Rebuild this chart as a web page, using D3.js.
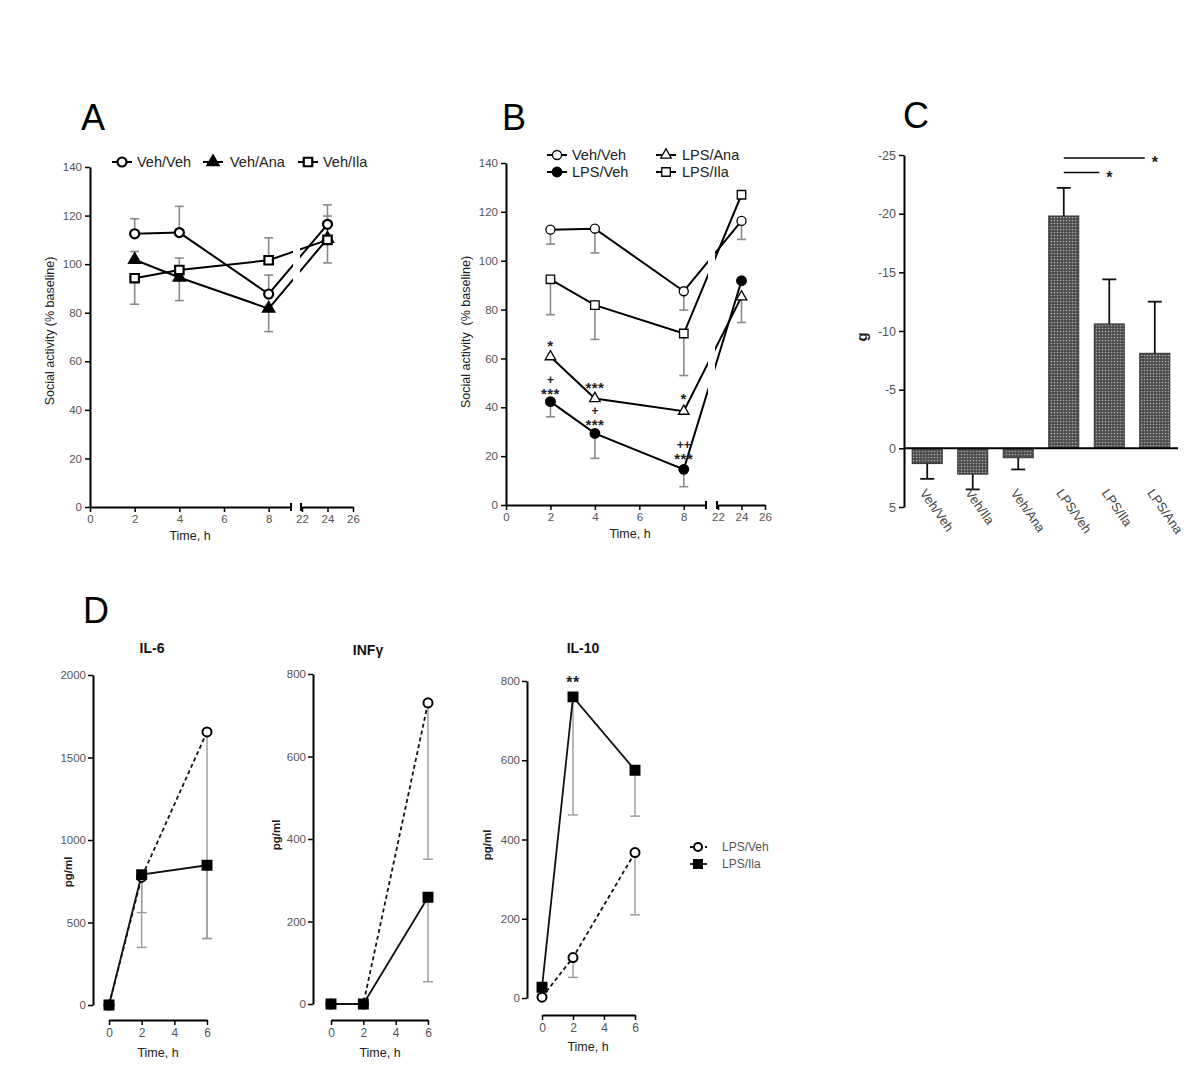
<!DOCTYPE html>
<html><head><meta charset="utf-8">
<script src="https://cdn.jsdelivr.net/npm/d3@7"></script>
<style>
body{margin:0;background:#fff}
svg text{font-family:"Liberation Sans",Arial,sans-serif}
</style>
</head><body>
<svg id="c" width="1200" height="1073"></svg>
<script>
// ---------------- DATA ----------------
const timesAB = [2, 4, 8, 24];
const xTicksLow = [0, 2, 4, 6, 8];
const xTicksHigh = [22, 24, 26];
const yTicksAB = [0, 20, 40, 60, 80, 100, 120, 140];

// Panel A
const aNames = ["Veh/Veh", "Veh/Ana", "Veh/Ila"];
const aVehVeh = [112.5, 113.0, 87.7, 116.4];
const aVehVehErr = [6.2, 10.8, 7.8, 8.0];
const aVehVehDir = [1, 1, 1, 1];
const aVehAna = [101.8, 94.5, 81.7, 110.5];
const aVehAnaErr = [3.4, 9.5, 9.5, 9.3];
const aVehAnaDir = [1, -1, -1, 1];
const aVehIla = [94.2, 97.6, 101.6, 110.0];
const aVehIlaErr = [10.7, 4.9, 9.2, 9.5];
const aVehIlaDir = [-1, 1, 1, -1];

// Panel B
const bNames = ["Veh/Veh", "LPS/Veh", "LPS/Ana", "LPS/Ila"];
const bVehVeh = [112.7, 113.1, 87.5, 116.3];
const bVehVehErr = [5.9, 9.9, 7.7, 7.6];
const bLpsVeh = [42.3, 29.3, 14.6, 91.8];
const bLpsVehErr = [6.2, 10.2, 7.1, 0];
const bLpsAna = [60.7, 43.6, 38.4, 85.2];
const bLpsAnaErr = [0, 0, 0, 10.5];
const bLpsIla = [92.4, 81.8, 70.2, 127.0];
const bLpsIlaErr = [14.5, 14.0, 17.2, 0];
const bAnnotLines = [["*"], ["+", "***"], ["***"], ["+", "***"], ["*"], ["++", "***"]];
const bAnnotT = [2, 2, 4, 4, 8, 8];
const bAnnotV = [66.7, 51.2, 49.4, 38.6, 45.0, 24.8];

// Panel C
const cCats = ["Veh/Veh", "Veh/Ila", "Veh/Ana", "LPS/Veh", "LPS/Ila", "LPS/Ana"];
const cVals = [1.3, 2.2, 0.8, -19.8, -10.6, -8.1];
const cErr = [1.3, 1.3, 1.0, 2.4, 3.8, 4.4];
const cTicks = [-25, -20, -15, -10, -5, 0, 5];
const cSigFrom = ["LPS/Veh", "LPS/Veh"];
const cSigTo = ["LPS/Ana", "LPS/Ila"];
const cSigLevel = [-24.75, -23.5];

// Panel D
const dTimes = [0, 2, 6];
const dTicksX = [0, 2, 4, 6];
const dNames = ["LPS/Veh", "LPS/Ila"];
const il6Veh = [0, 775, 1655];
const il6VehErr = [0, 215, 1252];
const il6Ila = [0, 790, 847];
const il6IlaErr = [0, 441, 444];
const il6Ticks = [0, 500, 1000, 1500, 2000];
const infVeh = [0, 0, 730];
const infVehErr = [0, 0, 379];
const infIla = [0, 0, 259];
const infIlaErr = [0, 0, 205];
const infTicks = [0, 200, 400, 600, 800];
const il10Veh = [2, 102, 367];
const il10VehErr = [0, 50, 157];
const il10Ila = [27, 760, 575];
const il10IlaErr = [0, 298, 116];
const il10Ticks = [0, 200, 400, 600, 800];

// ---------------- HELPERS ----------------
const svg = d3.select("#c");
const FONT = "Liberation Sans, Arial, sans-serif";
const fmt = d => String(d);

function styleAxis(sel, fs) {
  sel.attr("font-size", fs || 12).attr("font-family", FONT);
  sel.select(".domain").attr("stroke", "#000").attr("stroke-width", 2);
  sel.selectAll(".tick line").attr("stroke", "#000").attr("stroke-width", 1.5);
  sel.selectAll(".tick text").attr("fill", "#555").attr("font-size", fs || 12).attr("font-family", FONT);
}

const symTypes = {
  oc: [d3.symbolCircle, false], fc: [d3.symbolCircle, true],
  ot: [d3.symbolTriangle, false], ft: [d3.symbolTriangle, true],
  os: [d3.symbolSquare, false], fs: [d3.symbolSquare, true]
};
function symSize(t, k) {
  const base = {oc: 64, fc: 72, ot: 48, ft: 52, os: 72, fs: 80}[t];
  return base * (k || 1);
}
function drawMarker(g, t, x, y, sw, k) {
  const [s, filled] = symTypes[t];
  g.append("path").attr("d", d3.symbol(s, symSize(t, k))())
    .attr("transform", `translate(${x},${y})`)
    .attr("fill", filled ? "#000" : "#fff")
    .attr("stroke", "#000").attr("stroke-width", sw);
}
function errBar(g, x, y1, y2, color, sw, cap) {
  g.append("line").attr("x1", x).attr("x2", x).attr("y1", y1).attr("y2", y2)
    .attr("stroke", color).attr("stroke-width", sw);
  g.append("line").attr("x1", x - cap).attr("x2", x + cap).attr("y1", y2).attr("y2", y2)
    .attr("stroke", color).attr("stroke-width", sw);
}
function letter(txt, x, y) {
  svg.append("text").attr("x", x).attr("y", y).text(txt)
    .attr("font-size", 36).attr("fill", "#000").attr("font-family", FONT);
}

// ---------------- BROKEN-AXIS PANELS (A, B) ----------------
function brokenPanel(cfg) {
  const g = svg.append("g");
  const y = d3.scaleLinear().domain([0, 140]).range([cfg.y0, cfg.y140]);
  const s1 = d3.scaleLinear().domain([0, 9]).range([cfg.x0, cfg.xb1]);
  const s2 = d3.scaleLinear().domain([22, 26]).range([cfg.xb2, cfg.xe]);
  const xf = t => (t <= 9 ? s1(t) : s2(t));

  g.append("g").attr("transform", `translate(${cfg.x0},0)`)
    .call(d3.axisLeft(y).tickValues(yTicksAB).tickFormat(fmt).tickSize(5).tickSizeOuter(0).tickPadding(3))
    .call(s => styleAxis(s, 11.5));
  g.append("g").attr("transform", `translate(0,${cfg.y0})`)
    .call(d3.axisBottom(s1).tickValues(xTicksLow).tickFormat(fmt).tickSize(5).tickSizeOuter(0).tickPadding(3))
    .call(s => styleAxis(s, 11.5));
  g.append("g").attr("transform", `translate(0,${cfg.y0})`)
    .call(d3.axisBottom(s2).tickValues(xTicksHigh).tickFormat(fmt).tickSize(5).tickSizeOuter(0).tickPadding(3))
    .call(s => styleAxis(s, 11.5));
  [s1(9), s2(22) - 1].forEach(x => {
    g.append("line").attr("x1", x).attr("x2", x).attr("y1", cfg.y0 - 4).attr("y2", cfg.y0 + 4)
      .attr("stroke", "#000").attr("stroke-width", 2);
  });

  const cid = "gap" + cfg.id;
  const cp = svg.append("clipPath").attr("id", cid);
  cp.append("rect").attr("x", 0).attr("y", 0).attr("width", cfg.gapL).attr("height", 1073);
  cp.append("rect").attr("x", cfg.gapR).attr("y", 0).attr("width", 1200 - cfg.gapR).attr("height", 1073);

  const line = d3.line().x((d, i) => xf(timesAB[i])).y(d => y(d));
  cfg.series.forEach(s => {
    s.vals.forEach((v, i) => {
      if (!s.err[i]) return;
      const dir = s.dir ? s.dir[i] : -1;
      errBar(g, xf(timesAB[i]), y(v), y(v + dir * s.err[i]), "#8a8a8a", 1.6, 4.5);
    });
  });
  cfg.series.forEach(s => {
    g.append("path").attr("d", line(s.vals)).attr("fill", "none")
      .attr("stroke", "#000").attr("stroke-width", cfg.lw).attr("clip-path", `url(#${cid})`);
  });
  cfg.series.forEach(s => {
    s.vals.forEach((v, i) => drawMarker(g, s.m, xf(timesAB[i]), y(v), cfg.msw, cfg.mk));
  });
  cfg.legend.forEach(L => {
    g.append("line").attr("x1", L.x - 10).attr("x2", L.x + 10).attr("y1", L.y).attr("y2", L.y)
      .attr("stroke", "#000").attr("stroke-width", 2);
    drawMarker(g, L.m, L.x, L.y, cfg.msw, cfg.mk);
    g.append("text").attr("x", L.tx).attr("y", L.y + 5).text(L.name)
      .attr("font-size", 14.5).attr("fill", "#222");
  });
  g.append("text").attr("transform", `translate(${cfg.ylabX},${cfg.ylabY}) rotate(-90)`)
    .attr("text-anchor", "middle").attr("font-size", 12.5).attr("fill", "#222")
    .style("white-space", "pre").text(cfg.ylab);
  g.append("text").attr("x", cfg.tX).attr("y", cfg.tY).attr("text-anchor", "middle")
    .attr("font-size", 12.5).attr("fill", "#222").text("Time, h");
  return {g, y, xf};
}

// Panel A
letter("A", 81, 130);
brokenPanel({
  id: "A", x0: 90, xb1: 291, xb2: 302, xe: 353, y0: 507, y140: 167,
  gapL: 293, gapR: 300, lw: 2, msw: 2.2, mk: 1,
  series: [
    {vals: aVehVeh, err: aVehVehErr, dir: aVehVehDir, m: "oc"},
    {vals: aVehAna, err: aVehAnaErr, dir: aVehAnaDir, m: "ft"},
    {vals: aVehIla, err: aVehIlaErr, dir: aVehIlaDir, m: "os"}
  ],
  legend: [
    {name: aNames[0], m: "oc", x: 122, y: 162, tx: 137},
    {name: aNames[1], m: "ft", x: 213, y: 162, tx: 230},
    {name: aNames[2], m: "os", x: 308, y: 162, tx: 323}
  ],
  ylab: "Social activity (% baseline)", ylabX: 54, ylabY: 331,
  tX: 190, tY: 540
});

// Panel B
letter("B", 502, 130);
const B = brokenPanel({
  id: "B", x0: 506, xb1: 706, xb2: 718, xe: 765, y0: 505, y140: 163,
  gapL: 708, gapR: 715, lw: 2, msw: 1.3, mk: 1,
  series: [
    {vals: bVehVeh, err: bVehVehErr, m: "oc"},
    {vals: bLpsIla, err: bLpsIlaErr, m: "os"},
    {vals: bLpsAna, err: bLpsAnaErr, m: "ot"},
    {vals: bLpsVeh, err: bLpsVehErr, m: "fc"}
  ],
  legend: [
    {name: bNames[0], m: "oc", x: 557, y: 155, tx: 572},
    {name: bNames[1], m: "fc", x: 557, y: 172, tx: 572},
    {name: bNames[2], m: "ot", x: 666, y: 155, tx: 682},
    {name: bNames[3], m: "os", x: 666, y: 172, tx: 682}
  ],
  ylab: "Social activity  (% baseline)", ylabX: 470, ylabY: 332,
  tX: 630, tY: 538
});
bAnnotLines.forEach((lines, i) => {
  const cx = B.xf(bAnnotT[i]);
  const yc = B.y(bAnnotV[i]);
  const t = B.g.append("text").attr("text-anchor", "middle").attr("font-weight", "bold").attr("fill", "#222");
  lines.forEach((ln, k) => {
    const star = ln.indexOf("*") >= 0;
    t.append("tspan").attr("x", cx).attr("y", yc + k * 10.5 + (star ? 9 : 4.5))
      .attr("font-size", star ? 15 : 12).attr("letter-spacing", star ? 0.5 : 0).text(ln);
  });
});

// ---------------- PANEL C ----------------
letter("C", 903, 128);
(function () {
  const g = svg.append("g");
  const defs = svg.append("defs");
  const pat = defs.append("pattern").attr("id", "dots").attr("width", 3).attr("height", 3)
    .attr("patternUnits", "userSpaceOnUse");
  pat.append("rect").attr("width", 3).attr("height", 3).attr("fill", "#4a4a4a");
  pat.append("circle").attr("cx", 1.5).attr("cy", 1.5).attr("r", 0.85).attr("fill", "#a8a8a8");

  const y = d3.scaleLinear().domain([-25, 5]).range([155, 507]);
  const x = d3.scaleBand().domain(cCats).range([904, 1178]).paddingInner(0.34).paddingOuter(0.18);
  g.append("g").attr("transform", "translate(904,0)")
    .call(d3.axisLeft(y).tickValues(cTicks).tickFormat(fmt).tickSize(5).tickSizeOuter(0).tickPadding(3))
    .call(s => styleAxis(s, 12.5));
  cCats.forEach((c, i) => {
    const v = cVals[i];
    const y0 = y(0), y1 = y(v);
    g.append("rect").attr("x", x(c)).attr("width", x.bandwidth())
      .attr("y", Math.min(y0, y1)).attr("height", Math.abs(y1 - y0))
      .attr("fill", "url(#dots)").attr("stroke", "#333").attr("stroke-width", 1);
    const cx = x(c) + x.bandwidth() / 2;
    const dir = v < 0 ? -1 : 1;
    errBar(g, cx, y1, y(v + dir * cErr[i]), "#111", 1.8, 7);
  });
  g.append("line").attr("x1", 904).attr("x2", 1178).attr("y1", y(0)).attr("y2", y(0))
    .attr("stroke", "#000").attr("stroke-width", 2);
  cCats.forEach(c => {
    const cx = x(c) + x.bandwidth() / 2;
    g.append("text").attr("transform", `translate(${cx - 8},${493}) rotate(55)`)
      .attr("font-size", 13).attr("fill", "#444").text(c);
  });
  cSigFrom.forEach((f, i) => {
    const x1 = x(f) + x.bandwidth() / 2;
    const x2 = x(cSigTo[i]) + x.bandwidth() / 2 - 10;
    const yy = y(cSigLevel[i]);
    g.append("line").attr("x1", x1).attr("x2", x2).attr("y1", yy).attr("y2", yy)
      .attr("stroke", "#000").attr("stroke-width", 1.5);
    g.append("text").attr("x", x2 + 10).attr("y", yy + 10).attr("text-anchor", "middle")
      .attr("font-size", 16).attr("font-weight", "bold").attr("fill", "#222").text("*");
  });
  g.append("text").attr("transform", "translate(867,337) rotate(-90)").attr("text-anchor", "middle")
    .attr("font-size", 15).attr("font-weight", "bold").attr("fill", "#222").text("g");
})();

// ---------------- PANEL D ----------------
letter("D", 83, 623);
function cytoPanel(cfg) {
  const g = svg.append("g");
  const y = d3.scaleLinear().domain([0, cfg.ymax]).range([cfg.yb, cfg.yt]);
  const x = d3.scaleLinear().domain([0, 6]).range([cfg.xl, cfg.xr]);
  g.append("g").attr("transform", `translate(${cfg.yAxisX},0)`)
    .call(d3.axisLeft(y).tickValues(cfg.ticks).tickFormat(fmt).tickSize(5).tickSizeOuter(0).tickPadding(2))
    .call(s => styleAxis(s, 11.5));
  g.append("g").attr("transform", `translate(0,${cfg.xAxisY})`)
    .call(d3.axisBottom(x).tickValues(dTicksX).tickFormat(fmt).tickSize(5).tickSizeOuter(0).tickPadding(3))
    .call(s => styleAxis(s, 12));
  const series = [
    {vals: cfg.veh, err: cfg.vehErr, m: "oc", dash: "4,3"},
    {vals: cfg.ila, err: cfg.ilaErr, m: "fs", dash: null}
  ];
  series.forEach(s => s.vals.forEach((v, i) => {
    if (s.err[i]) errBar(g, x(dTimes[i]), y(v), y(v - s.err[i]), "#9a9a9a", 1.4, 5);
  }));
  const line = d3.line().x((d, i) => x(dTimes[i])).y(d => y(d));
  series.forEach(s => {
    g.append("path").attr("d", line(s.vals)).attr("fill", "none").attr("stroke", "#111")
      .attr("stroke-width", 1.8).attr("stroke-dasharray", s.dash);
  });
  series.forEach(s => s.vals.forEach((v, i) => drawMarker(g, s.m, x(dTimes[i]), y(v), 2, 1)));
  g.append("text").attr("x", cfg.titleX).attr("y", cfg.titleY).attr("text-anchor", "middle")
    .attr("font-size", 14).attr("font-weight", "bold").attr("fill", "#111").text(cfg.title);
  g.append("text").attr("transform", `translate(${cfg.pgX},${cfg.pgY}) rotate(-90)`)
    .attr("text-anchor", "middle").attr("font-size", 11.5).attr("font-weight", "bold")
    .attr("fill", "#222").text("pg/ml");
  g.append("text").attr("x", cfg.tX).attr("y", cfg.tY).attr("text-anchor", "middle")
    .attr("font-size", 12.5).attr("fill", "#222").text("Time, h");
  return {g, x, y};
}
cytoPanel({title: "IL-6", ymax: 2000, yb: 1005, yt: 675, xl: 109, xr: 207, xAxisY: 1020, yAxisX: 93,
  ticks: il6Ticks, veh: il6Veh, vehErr: il6VehErr, ila: il6Ila, ilaErr: il6IlaErr,
  titleX: 152, titleY: 653, pgX: 72, pgY: 872, tX: 158, tY: 1057});
cytoPanel({title: "INFγ", ymax: 800, yb: 1004, yt: 674, xl: 331, xr: 428, xAxisY: 1020, yAxisX: 313,
  ticks: infTicks, veh: infVeh, vehErr: infVehErr, ila: infIla, ilaErr: infIlaErr,
  titleX: 368, titleY: 655, pgX: 280, pgY: 835, tX: 380, tY: 1057});
const P10 = cytoPanel({title: "IL-10", ymax: 800, yb: 998, yt: 681, xl: 542, xr: 635, xAxisY: 1015, yAxisX: 527,
  ticks: il10Ticks, veh: il10Veh, vehErr: il10VehErr, ila: il10Ila, ilaErr: il10IlaErr,
  titleX: 583, titleY: 653, pgX: 491, pgY: 845, tX: 588, tY: 1051});
P10.g.append("text").attr("x", P10.x(2)).attr("y", 688).attr("text-anchor", "middle")
  .attr("font-size", 16).attr("font-weight", "bold").attr("letter-spacing", 0.5).attr("fill", "#222").text("**");

// legend D
[{name: dNames[0], m: "oc", dash: "3,2", y: 847}, {name: dNames[1], m: "fs", dash: null, y: 864}].forEach(L => {
  svg.append("line").attr("x1", 690).attr("x2", 707).attr("y1", L.y).attr("y2", L.y)
    .attr("stroke", "#111").attr("stroke-width", 1.8).attr("stroke-dasharray", L.dash);
  drawMarker(svg, L.m, 698, L.y, 2, 0.8);
  svg.append("text").attr("x", 722).attr("y", L.y + 4).attr("font-size", 12).attr("fill", "#555").text(L.name);
});
</script>
</body></html>
